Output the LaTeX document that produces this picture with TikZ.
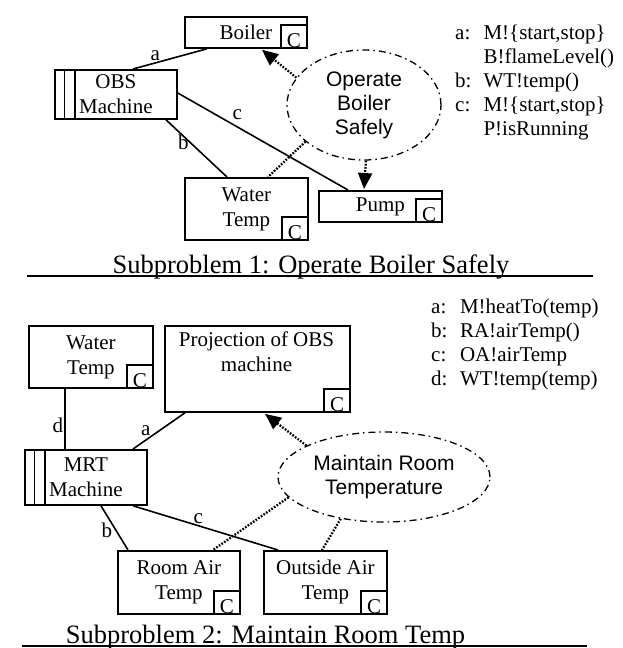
\documentclass[tikz,border=0pt]{standalone}
\usepackage{fontspec}
\setmainfont{Liberation Serif}
\newfontfamily\helv{Liberation Sans}
\usetikzlibrary{shapes.geometric,arrows.meta,calc}

\tikzset{
  box/.style={draw, line width=1.8pt, inner sep=0pt, anchor=north west, align=center,
    font=\fontsize{21}{25}\selectfont},
  cbox/.style={draw, line width=1.6pt, inner sep=0pt, anchor=south east,
    minimum width=26pt, minimum height=23pt, text height=21pt, text depth=0pt,
    font=\fontsize{21}{25}\selectfont},
  txt/.style={align=center, inner sep=0pt, font=\fontsize{21}{25}\selectfont},
  link/.style={line width=1.6pt},
  lab/.style={inner sep=1pt, font=\fontsize{21}{25}\selectfont},
  concern/.style={ellipse, draw, line width=1.3pt,
    dash pattern=on 7pt off 4pt on 1.5pt off 4pt, inner sep=0pt, align=center,
    font=\helv\fontsize{21}{24}\selectfont},
  trace/.style={line width=2.3pt, dash pattern=on 1.7pt off 1.5pt},
  tip/.style={trace, -{Triangle[length=16pt,width=14pt]}},
  title/.style={font=\fontsize{26.5}{30}\selectfont, inner sep=0pt, anchor=base},
  legend/.style={anchor=north west, inner sep=0pt, font=\fontsize{21}{24}\selectfont},
  rule/.style={line width=1.6pt}
}

\begin{document}
\begin{tikzpicture}[x=1pt,y=-1pt]
\useasboundingbox (0,0) rectangle (623,648);

% ---------------- Subproblem 1 ----------------
\node[box, minimum width=122pt, minimum height=31pt] (boiler) at (184,16) {Boiler};
\node[cbox] (boilerC) at (boiler.south east) {C};

\node[box, minimum width=122pt, minimum height=49pt] (obs) at (54,69) {OBS\\Machine};
\draw[line width=1.6pt] ($(obs.north west)+(10.5,0)$) -- ($(obs.south west)+(10.5,0)$);
\draw[line width=1.6pt] ($(obs.north west)+(21,0)$) -- ($(obs.south west)+(21,0)$);

\node[box, minimum width=123pt, minimum height=62pt] (wt1) at (184,177) {Water\\Temp};
\node[cbox] (wt1C) at (wt1.south east) {C};

\node[box, minimum width=123pt, minimum height=31pt] (pump) at (318,190) {Pump};
\node[cbox] (pumpC) at (pump.south east) {C};

\node[concern, minimum width=154pt, minimum height=110pt] (safe) at (364,105)
  {Operate\\Boiler\\Safely};

\draw[link] ($(boiler.south west)+(23,0)$) -- node[lab, pos=0.7, above] (la1) {a}
  ($(obs.north west)+(79,0)$);
\draw[link] ($(obs.north east)+(0,24)$) -- node[lab, pos=0.35, above=5pt] (lc1) {c}
  ($(pump.north west)+(30,0)$);
\draw[link] ($(obs.south west)+(112,0)$) -- node[lab, pos=0.4, left] (lb1) {b}
  ($(wt1.north west)+(43,0)$);

\draw[tip] (safe.158) -- ($(boiler.south west)+(78,1)$);
\draw[trace] (safe.212) -- ($(wt1.north west)+(84,0)$);
\draw[tip] (safe.272) -- ($(pump.north west)+(46,-1)$);

\node[legend] (legend1) at (455,22) {%
  \begin{tabular}{@{}l@{\hspace{12pt}}l@{}}
  a: & M!\{start,stop\}\\
     & B!flameLevel()\\
  b: & WT!temp()\\
  c: & M!\{start,stop\}\\
     & P!isRunning
  \end{tabular}};

\node[title] (title1) at (311,273) {Subproblem 1: Operate Boiler Safely};
\coordinate (r1a) at (27,276);
\coordinate (r1b) at (593,276);
\draw[rule] (r1a) -- (r1b);

% ---------------- Subproblem 2 ----------------
\node[box, minimum width=124pt, minimum height=62pt] (wt2) at (28,325) {Water\\Temp};
\node[cbox] (wt2C) at (wt2.south east) {C};

\node[box, minimum width=185pt, minimum height=86pt] (proj) at (164,325) {};
\node[txt] (projT) at (256.5,352) {Projection of OBS\\machine};
\node[cbox] (projC) at (proj.south east) {C};

\node[box, minimum width=122pt, minimum height=55pt] (mrt) at (24,449) {MRT\\Machine};
\draw[line width=1.6pt] ($(mrt.north west)+(10.5,0)$) -- ($(mrt.south west)+(10.5,0)$);
\draw[line width=1.6pt] ($(mrt.north west)+(21,0)$) -- ($(mrt.south west)+(21,0)$);

\node[box, minimum width=122pt, minimum height=63pt] (room) at (117,550) {Room Air\\Temp};
\node[cbox] (roomC) at (room.south east) {C};

\node[box, minimum width=123pt, minimum height=63pt] (out) at (263,550) {Outside Air\\Temp};
\node[cbox] (outC) at (out.south east) {C};

\node[concern, minimum width=212pt, minimum height=90pt] (warm) at (384,477)
  {Maintain Room\\Temperature};

\draw[link] ($(wt2.south west)+(37,0)$) -- node[lab, pos=0.6, left] (ld2) {d}
  ($(mrt.north west)+(41,0)$);
\draw[link] ($(mrt.north west)+(109,0)$) -- node[lab, pos=0.35, above left, inner sep=0pt] (la2) {a}
  ($(proj.south west)+(21,0)$);
\draw[link] ($(mrt.south west)+(77,0)$) -- node[lab, pos=0.55, left=2pt] (lb2) {b}
  ($(room.north west)+(11,0)$);
\draw[link] ($(mrt.south west)+(109,0)$) -- node[lab, pos=0.45, above] (lc2) {c}
  ($(out.north west)+(15,0)$);

\draw[tip] (warm.158) -- ($(proj.south west)+(101,1)$);
\draw[trace] (warm.192) -- ($(room.north west)+(96,0)$);
\draw[trace] (warm.224) -- ($(out.north west)+(59,0)$);

\node[legend] (legend2) at (431,296) {%
  \begin{tabular}{@{}l@{\hspace{12.5pt}}l@{}}
  a: & M!heatTo(temp)\\
  b: & RA!airTemp()\\
  c: & OA!airTemp\\
  d: & WT!temp(temp)
  \end{tabular}};

\node[title] (title2) at (265.5,643) {Subproblem 2: Maintain Room Temp};
\coordinate (r2a) at (22,646);
\coordinate (r2b) at (587,646);
\draw[rule] (r2a) -- (r2b);
\end{tikzpicture}
\end{document}
